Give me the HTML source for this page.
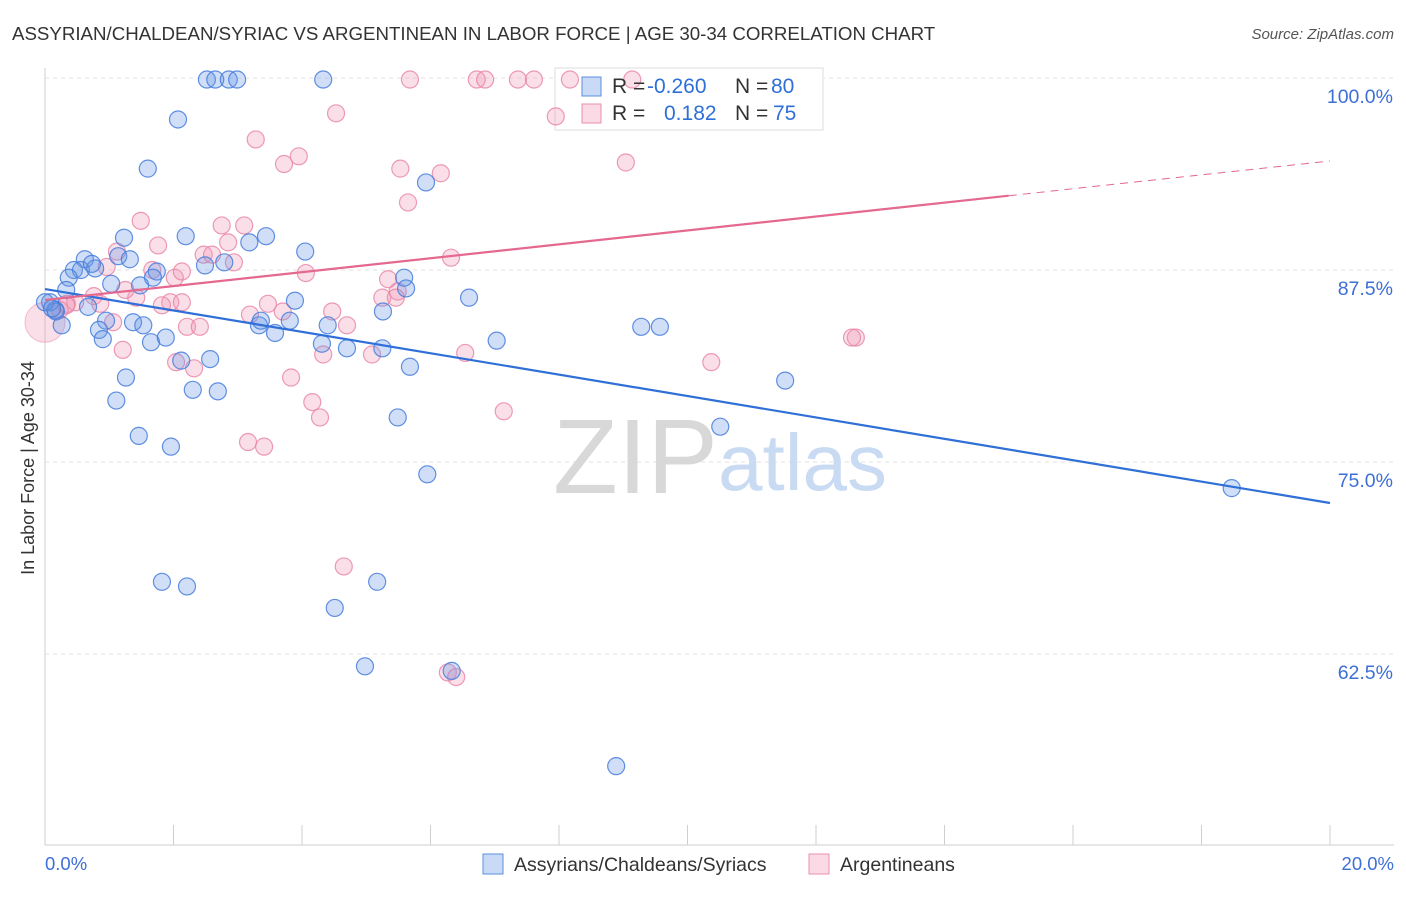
<!DOCTYPE html>
<html><head><meta charset="utf-8"><style>
body{margin:0;background:#fff;font-family:"Liberation Sans",sans-serif}
svg text{font-family:"Liberation Sans",sans-serif}
</style></head><body>
<svg id="c" width="1406" height="892"></svg>
<script>
const blueX=[2.52,2.65,2.86,2.99,4.33,2.07,1.60,5.93,1.23,2.19,3.44,3.18,4.05,0.62,1.14,1.32,0.45,0.56,0.78,0.73,1.74,1.68,0.37,2.49,2.79,5.59,5.62,1.03,1.48,0.33,0.08,0.16,0.67,0.26,6.60,3.89,5.26,0.95,1.37,1.53,3.33,3.81,3.36,4.40,3.58,0.84,0.90,1.65,1.88,4.31,4.70,5.25,7.03,9.28,9.57,2.12,2.57,5.68,1.26,2.30,2.69,1.11,5.49,10.51,11.52,1.46,1.96,5.95,18.47,1.82,2.21,5.17,4.51,4.98,6.33,8.89,0.17,0.0,0.11];
const blueY=[99.9,99.9,99.9,99.9,99.9,97.3,94.1,93.2,89.6,89.7,89.7,89.3,88.7,88.2,88.4,88.2,87.5,87.5,87.6,87.9,87.4,87.0,87.0,87.8,88.0,87.0,86.3,86.6,86.5,86.2,85.4,84.9,85.1,83.9,85.7,85.5,84.8,84.2,84.1,83.9,83.9,84.2,84.2,83.9,83.4,83.6,83.0,82.8,83.1,82.7,82.4,82.4,82.9,83.8,83.8,81.6,81.7,81.2,80.5,79.7,79.6,79.0,77.9,77.3,80.3,76.7,76.0,74.2,73.3,67.2,66.9,67.2,65.5,61.7,61.4,55.2,84.8,85.4,85.0];
const pinkX=[5.68,6.72,6.85,7.36,7.61,8.17,9.14,4.53,7.95,3.28,3.95,3.72,9.04,5.53,6.16,5.65,1.49,2.75,3.10,1.76,2.85,2.47,2.60,1.12,2.94,6.32,0.96,4.06,1.67,2.02,5.34,2.13,5.49,5.25,5.46,1.42,1.25,0.76,0.47,0.86,0.34,0.23,0.33,1.95,2.13,1.82,3.47,4.47,3.70,3.19,2.21,2.41,1.06,4.70,4.33,5.09,1.21,6.54,12.62,12.56,10.37,2.32,2.04,3.83,4.16,7.14,4.28,3.16,3.41,4.65,6.27,6.40];
const pinkY=[99.9,99.9,99.9,99.9,99.9,99.9,99.9,97.7,97.5,96.0,94.9,94.4,94.5,94.1,93.8,91.9,90.7,90.4,90.4,89.1,89.3,88.5,88.5,88.7,88.0,88.3,87.7,87.3,87.5,87.0,86.9,87.4,86.1,85.7,85.7,85.7,86.2,85.8,85.4,85.3,85.3,84.9,85.2,85.4,85.4,85.2,85.3,84.8,84.8,84.6,83.8,83.8,84.1,83.9,82.0,82.0,82.3,82.1,83.1,83.1,81.5,81.1,81.5,80.5,78.9,78.3,77.9,76.3,76.0,68.2,61.3,61.0];
const yTicks=[100,87.5,75,62.5];
const yTickLabels=["100.0%","87.5%","75.0%","62.5%"];
const blueTrend=[86.26,72.33];
const pinkTrend=[85.55,94.6];
const NS="http://www.w3.org/2000/svg";
const svg=document.getElementById('c');
const X=v=>45+v*64.25, Y=v=>78+(100-v)*15.36;
function el(t,a,p){const e=document.createElementNS(NS,t);for(const k in a)e.setAttribute(k,a[k]);(p||svg).appendChild(e);return e;}
yTicks.forEach((t,i)=>{
 const g=el('line',{x1:45,x2:1394,y1:Y(t),y2:Y(t),stroke:'#e2e2e2','stroke-dasharray':'4,4'});
 
 
 const tx=el('text',{x:1393,y:Y(t)+25,'text-anchor':'end','font-size':19.5,fill:'#3d6fd6'});
 tx.textContent=yTickLabels[i];
 
 
});
el('line',{x1:45,x2:45,y1:68,y2:845,stroke:'#cfcfcf'});
el('line',{x1:45,x2:1394,y1:845,y2:845,stroke:'#cfcfcf'});
for(let i=0;i<=10;i++){el('line',{x1:X(i*2),x2:X(i*2),y1:825,y2:845,stroke:'#cfcfcf'});}
const wm=el('text',{x:553,y:493,'font-size':106,fill:'#d8d8d8','font-family':'Liberation Serif'});wm.textContent='ZIP';

const wm2=el('text',{x:718,y:490,'font-size':80,fill:'#c9daf3'});wm2.textContent='atlas';

// legend box drawn under points so points show through
const lg=el('rect',{x:555,y:68,width:268,height:62,fill:'#fff',stroke:'#ddd'});

pinkX.forEach((x,i)=>{const c=el('circle',{cx:X(x),cy:Y(pinkY[i]),r:8.5,fill:'rgba(240,150,180,0.3)',stroke:'rgba(232,130,165,0.8)','stroke-width':1.2});
 });
const big=el('circle',{cx:X(0),cy:Y(84.1),r:20,fill:'rgba(240,150,180,0.3)',stroke:'rgba(232,130,165,0.5)'});

blueX.forEach((x,i)=>{const c=el('circle',{cx:X(x),cy:Y(blueY[i]),r:8.5,fill:'rgba(100,150,230,0.3)',stroke:'rgba(70,125,220,0.85)','stroke-width':1.2});
 });
const bl=el('line',{x1:X(0),y1:Y(blueTrend[0]),x2:X(20),y2:Y(blueTrend[1]),stroke:'#2f6fd8','stroke-width':2.2});

const pm=pinkTrend[0]+(pinkTrend[1]-pinkTrend[0])*0.75;
const pl=el('line',{x1:X(0),y1:Y(pinkTrend[0]),x2:X(15),y2:Y(pm),stroke:'#e5688f','stroke-width':2.2});

const pd=el('line',{x1:X(15),y1:Y(pm),x2:X(20),y2:Y(pinkTrend[1]),stroke:'#e5688f','stroke-width':1,'stroke-dasharray':'8,6'});

</script>
<svg width="1406" height="892" style="position:absolute;left:0;top:0">
<text x="12" y="40" font-size="18.7" fill="#333">ASSYRIAN/CHALDEAN/SYRIAC VS ARGENTINEAN IN LABOR FORCE | AGE 30-34 CORRELATION CHART</text>
<text x="1394" y="39" font-size="15" font-style="italic" fill="#555" text-anchor="end">Source: ZipAtlas.com</text>
<text transform="translate(34,468) rotate(-90)" font-size="18" fill="#333" text-anchor="middle">In Labor Force | Age 30-34</text>
<text x="45" y="870" font-size="18.5" fill="#3d6fd6">0.0%</text>
<text x="1394" y="870" font-size="18.5" fill="#3d6fd6" text-anchor="end">20.0%</text>
<g>
<rect x="582" y="77" width="19" height="19" fill="rgba(100,150,230,0.35)" stroke="#5b8fde"/>
<rect x="582" y="104" width="19" height="19" fill="rgba(240,150,180,0.35)" stroke="#eb8fb0"/>
<text x="612" y="93" font-size="21" fill="#333">R = <tspan x="647" fill="#2f6fd8">-0.260</tspan></text>
<text x="735" y="93" font-size="21" fill="#333">N = <tspan x="771" fill="#2f6fd8">80</tspan></text>
<text x="612" y="120" font-size="21" fill="#333">R = <tspan x="664" fill="#2f6fd8">0.182</tspan></text>
<text x="735" y="120" font-size="21" fill="#333">N = <tspan x="773" fill="#2f6fd8">75</tspan></text>
</g>
<g>
<rect x="483" y="854" width="20" height="20" fill="rgba(100,150,230,0.35)" stroke="#5b8fde"/>
<text x="514" y="871" font-size="19.5" fill="#333">Assyrians/Chaldeans/Syriacs</text>
<rect x="809" y="854" width="20" height="20" fill="rgba(240,150,180,0.35)" stroke="#eb8fb0"/>
<text x="840" y="871" font-size="19.5" fill="#333">Argentineans</text>
</g>
</svg>
</body></html>
